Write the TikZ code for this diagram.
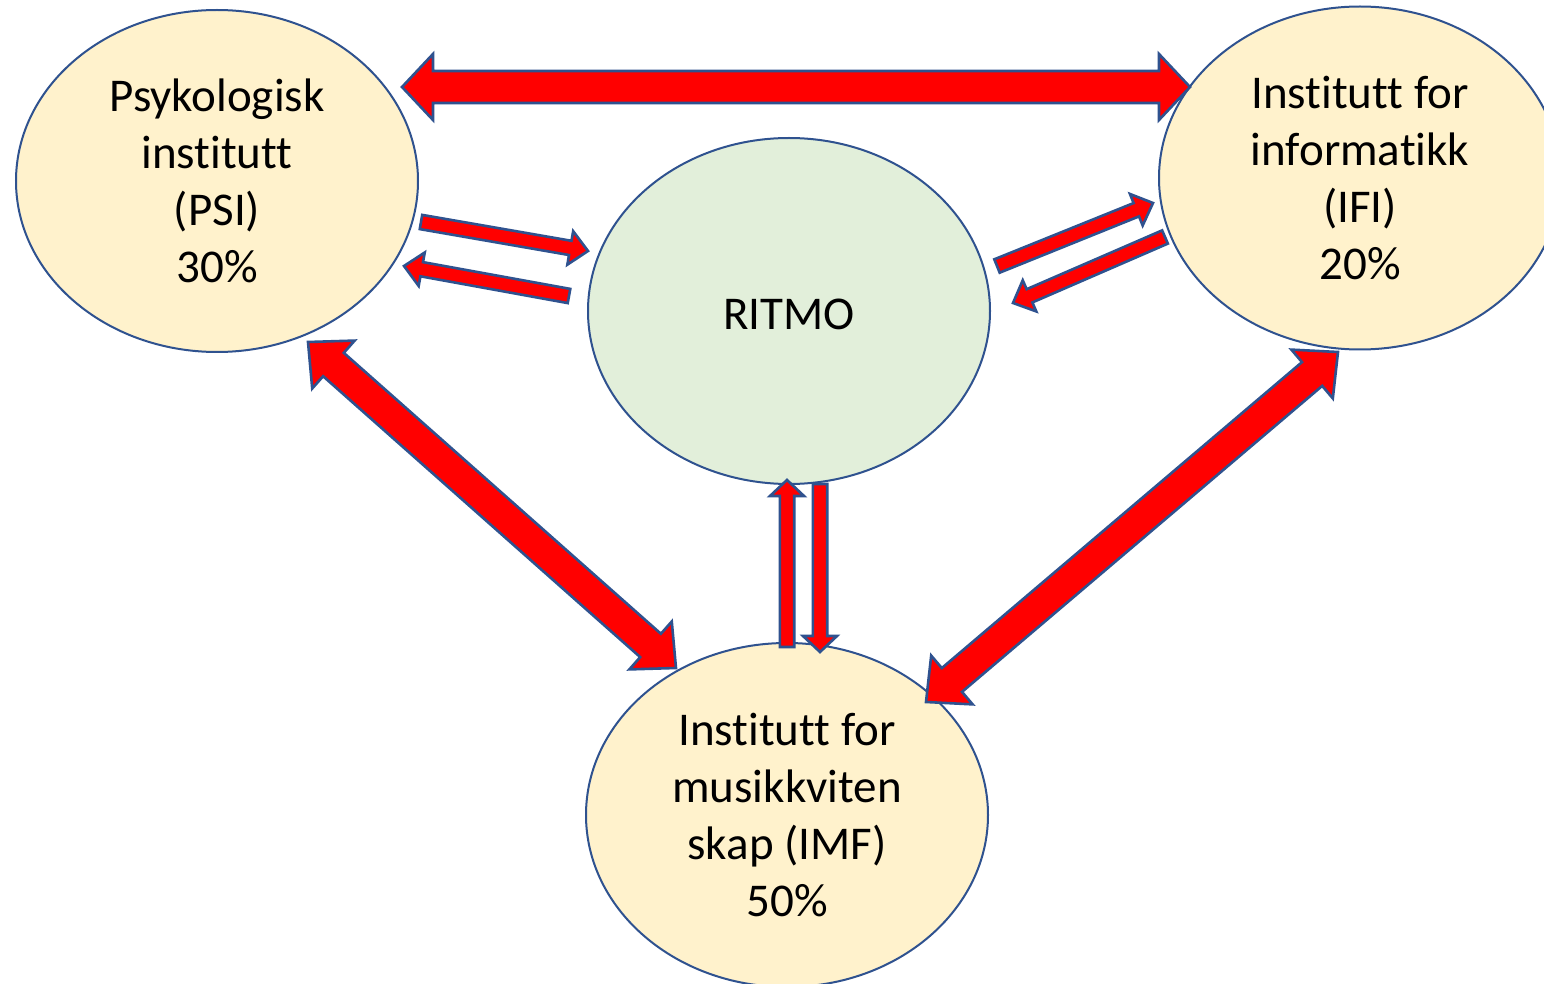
\documentclass[tikz,border=0pt]{standalone}
\usepackage{fontspec}
\setmainfont{Carlito}[Ligatures=NoCommon]
\usetikzlibrary{shapes.geometric,calc}
\definecolor{edgeblue}{RGB}{47,82,143}
\definecolor{beige}{RGB}{255,242,204}
\definecolor{palegreen}{RGB}{226,239,218}
\tikzset{
  unit/.style={ellipse, draw=edgeblue, line width=1pt, inner sep=0pt,
    minimum width=201pt, minimum height=172pt, align=center,
    font=\fontsize{23.5pt}{28.5pt}\selectfont},
  blockarrow/.style={fill=red, draw=edgeblue, line width=1.3pt, line join=miter},
}
% single block arrow: tail, tip, shaft half width, head half width, head length
\newcommand\singlearrow[5]{%
  \coordinate (hb) at ($(#2)!#5!(#1)$);
  \draw[blockarrow] ($(#1)!#3!90:(#2)$) -- ($(hb)!#3!-90:(#1)$) -- ($(hb)!#4!-90:(#1)$)
    -- (#2) -- ($(hb)!#4!90:(#1)$) -- ($(hb)!#3!90:(#1)$) -- ($(#1)!#3!-90:(#2)$) -- cycle;}
% double block arrow
\newcommand\doublearrow[5]{%
  \coordinate (hba) at ($(#1)!#5!(#2)$);
  \coordinate (hbb) at ($(#2)!#5!(#1)$);
  \draw[blockarrow] (#1) -- ($(hba)!#4!90:(#2)$) -- ($(hba)!#3!90:(#2)$)
    -- ($(hbb)!#3!-90:(#1)$) -- ($(hbb)!#4!-90:(#1)$) -- (#2)
    -- ($(hbb)!#4!90:(#1)$) -- ($(hbb)!#3!90:(#1)$)
    -- ($(hba)!#3!-90:(#2)$) -- ($(hba)!#4!-90:(#2)$) -- cycle;}
\begin{document}
\begin{tikzpicture}[x=0.5pt,y=-0.5pt]
\clip (0,0) rectangle (1544,984);
\fill[white] (0,0) rectangle (1544,984);

\node[unit, fill=beige, minimum height=171pt] (psi) at (217,181) {Psykologisk\\institutt\\(PSI)\\30\%};
\node[unit, fill=palegreen, minimum height=173pt] (ritmo) at (789,311) {};
\node (ritmolabel) at (789,314) [font=\fontsize{23.5pt}{28.5pt}\selectfont] {RITMO};
\node[unit, fill=beige, minimum height=171.5pt] (ifi) at (1360,178) {Institutt for\\informatikk\\(IFI)\\20\%};
\node[unit, fill=beige] (imf) at (787,815) {Institutt for\\musikkviten\\skap (IMF)\\50\%};

% arrow end points
\coordinate (psiTop) at (402,87);
\coordinate (ifiTop) at (1190,87);
\coordinate (psiOut) at (421,222);
\coordinate (ritmoInL) at (588,251);
\coordinate (ritmoOutL) at (569,296);
\coordinate (psiIn) at (404,266);
\coordinate (ritmoOutR) at (997,266);
\coordinate (ifiIn) at (1153,203);
\coordinate (ifiOut) at (1165,237);
\coordinate (ritmoInR) at (1013,303);
\coordinate (imfOutUp) at (787,647);
\coordinate (ritmoInB) at (787,480);
\coordinate (ritmoOutB) at (820,484);
\coordinate (imfInUp) at (820,652);
\coordinate (psiBot) at (308,342);
\coordinate (imfL) at (676,668);
\coordinate (ifiBot) at (1338,352);
\coordinate (imfR) at (926,702);

\doublearrow{psiTop}{ifiTop}{8pt}{16.5pt}{15.5pt}
\singlearrow{psiOut}{ritmoInL}{3.6pt}{8.5pt}{9pt}
\singlearrow{ritmoOutL}{psiIn}{3.6pt}{8.5pt}{9pt}
\singlearrow{ritmoOutR}{ifiIn}{3.6pt}{8.5pt}{9pt}
\singlearrow{ifiOut}{ritmoInR}{3.6pt}{8.5pt}{9pt}
\singlearrow{imfOutUp}{ritmoInB}{3.6pt}{8.5pt}{8pt}
\singlearrow{ritmoOutB}{imfInUp}{3.6pt}{8.5pt}{8pt}
\doublearrow{psiBot}{imfL}{7.8pt}{16pt}{17pt}
\doublearrow{ifiBot}{imfR}{7.8pt}{16pt}{17pt}
\end{tikzpicture}
\end{document}
